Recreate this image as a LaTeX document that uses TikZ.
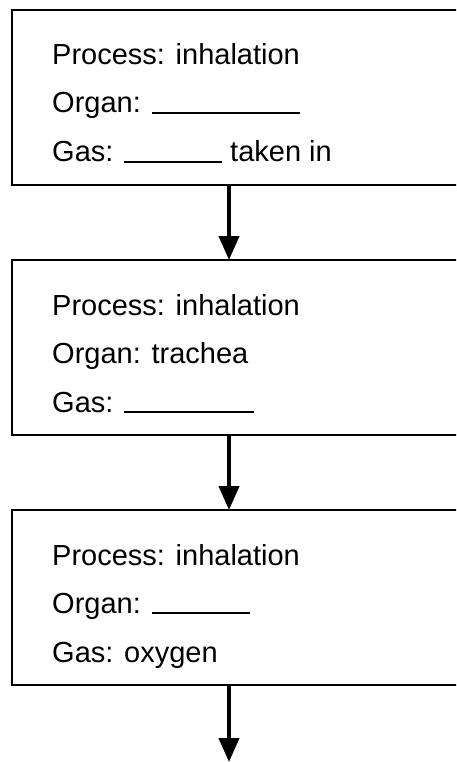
\documentclass[tikz,border=0pt]{standalone}
\usepackage{fontspec}
\setmainfont{Liberation Sans}
\usepackage{tikz}
\usetikzlibrary{arrows.meta}
\usetikzlibrary{positioning}

\newcommand{\blank}[1]{\rule[-1pt]{#1}{2pt}}

\tikzset{
  stagebox/.style={draw, line width=2.6pt, outer sep=0pt, minimum width=470pt, minimum height=175pt, anchor=north west},
  entry/.style={anchor=base west, inner sep=0pt, font=\fontsize{29pt}{35pt}\selectfont},
  flow/.style={line width=4.2pt, -{Triangle[length=24pt,width=20pt]}}
}

\begin{document}
\begin{tikzpicture}[x=1pt,y=-1pt]
\useasboundingbox (0,0) rectangle (456,762);
\clip (0,0) rectangle (456,762);
\coordinate (axis) at (229,0);
\coordinate (out) at (229,762);
% stage 1
\node[stagebox] (box1) at (12,10) {};
\node[entry] (p1) at (52,65) {Process: inhalation};
\node[entry] (o1) at (52,113) {Organ: \blank{148pt}};
\node[entry] (g1) at (52,162) {Gas: \blank{98pt} taken in};
% stage 2
\node[stagebox] (box2) at (12,260) {};
\node[entry] (p2) at (52,315) {Process: inhalation};
\node[entry] (o2) at (52,363) {Organ: trachea};
\node[entry] (g2) at (52,412) {Gas: \blank{130pt}};
% stage 3
\node[stagebox] (box3) at (12,510) {};
\node[entry] (p3) at (52,565) {Process: inhalation};
\node[entry] (o3) at (52,613) {Organ: \blank{98pt}};
\node[entry] (g3) at (52,662) {Gas: oxygen};
% arrows
\draw[flow] (box1.south -| axis) -- (box2.north -| axis);
\draw[flow] (box2.south -| axis) -- (box3.north -| axis);
\draw[flow] (box3.south -| axis) -- (out);
\end{tikzpicture}
\end{document}
